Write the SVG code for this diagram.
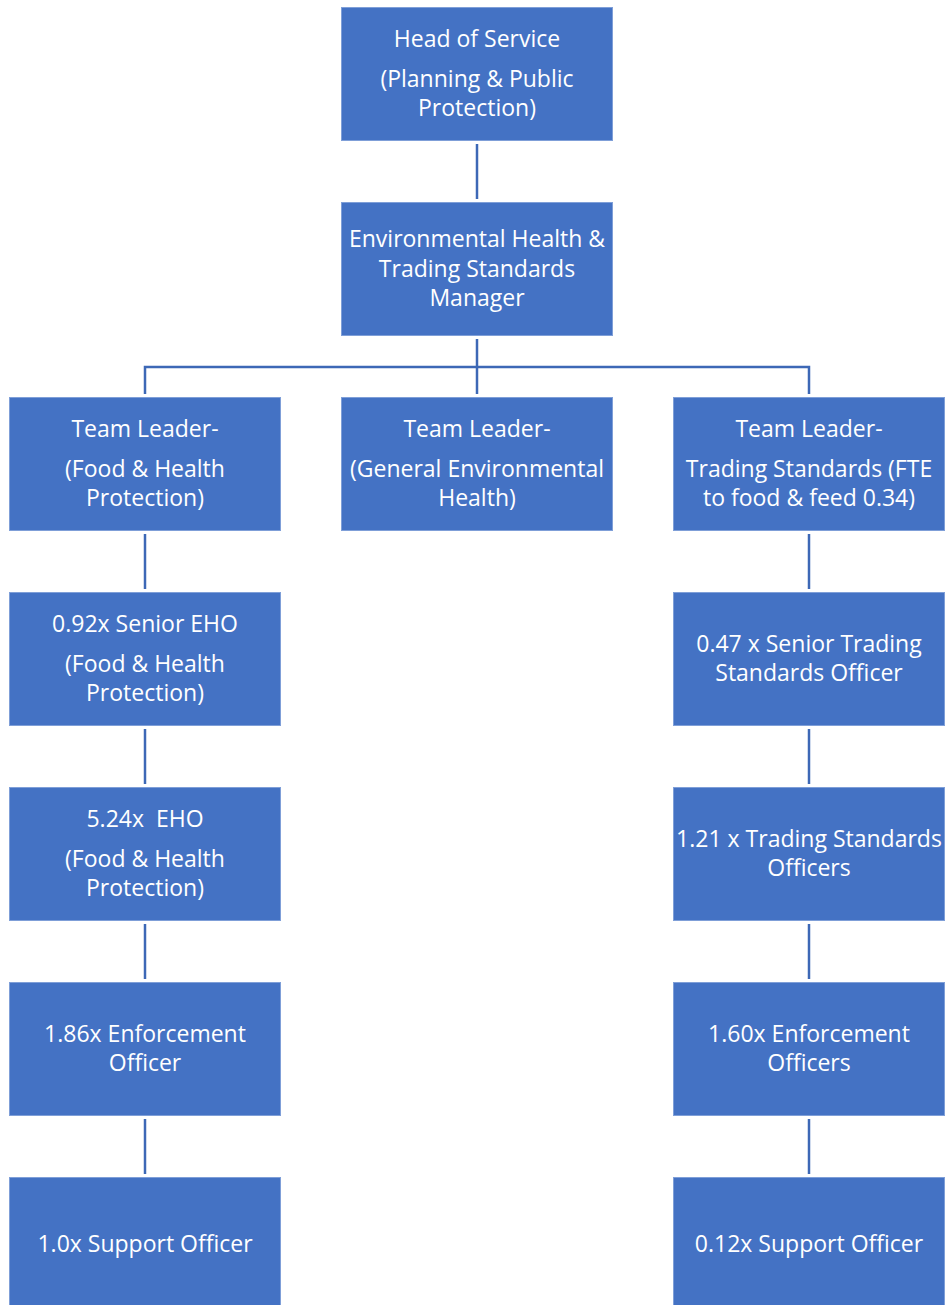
<svg xmlns="http://www.w3.org/2000/svg" width="947" height="1305" viewBox="0 0 947 1305">
<style>
.box{fill:#4472C4;stroke:#7F9FD8;stroke-width:1}
.t{fill:#FFFFFF;font-family:"Open Sans","Liberation Sans",sans-serif;font-size:23px;text-anchor:middle}
.c{fill:none;stroke:#3D68B6;stroke-width:2.5}
</style>
<rect width="947" height="1305" fill="#FFFFFF"/>
<g id="connectors">
<line class="c" x1="477" y1="144" x2="477" y2="199"/>
<line class="c" x1="477" y1="339" x2="477" y2="394"/>
<polyline class="c" points="145,394 145,367 809,367 809,394"/>
<line class="c" x1="145" y1="534" x2="145" y2="589"/>
<line class="c" x1="145" y1="729" x2="145" y2="784"/>
<line class="c" x1="145" y1="924" x2="145" y2="979"/>
<line class="c" x1="145" y1="1119" x2="145" y2="1174"/>
<line class="c" x1="809" y1="534" x2="809" y2="589"/>
<line class="c" x1="809" y1="729" x2="809" y2="784"/>
<line class="c" x1="809" y1="924" x2="809" y2="979"/>
<line class="c" x1="809" y1="1119" x2="809" y2="1174"/>
</g>
<g id="head">
<rect class="box" x="341.5" y="7.5" width="271" height="133"/>
<text class="t" x="477" y="47">Head of Service</text>
<text class="t" x="477" y="87">(Planning &amp; Public</text>
<text class="t" x="477" y="116">Protection)</text>
</g>
<g id="manager">
<rect class="box" x="341.5" y="202.5" width="271" height="133"/>
<text class="t" x="477" y="247">Environmental Health &amp;</text>
<text class="t" x="477" y="277">Trading Standards</text>
<text class="t" x="477" y="306">Manager</text>
</g>
<g id="tl-food">
<rect class="box" x="9.5" y="397.5" width="271" height="133"/>
<text class="t" x="145" y="437">Team Leader-</text>
<text class="t" x="145" y="477">(Food &amp; Health</text>
<text class="t" x="145" y="506">Protection)</text>
</g>
<g id="tl-general">
<rect class="box" x="341.5" y="397.5" width="271" height="133"/>
<text class="t" x="477" y="437">Team Leader-</text>
<text class="t" x="477" y="477">(General Environmental</text>
<text class="t" x="477" y="506">Health)</text>
</g>
<g id="tl-trading">
<rect class="box" x="673.5" y="397.5" width="271" height="133"/>
<text class="t" x="809" y="437">Team Leader-</text>
<text class="t" x="809" y="477">Trading Standards (FTE</text>
<text class="t" x="809" y="506">to food &amp; feed 0.34)</text>
</g>
<g id="senior-eho">
<rect class="box" x="9.5" y="592.5" width="271" height="133"/>
<text class="t" x="145" y="632">0.92x Senior EHO</text>
<text class="t" x="145" y="672">(Food &amp; Health</text>
<text class="t" x="145" y="701">Protection)</text>
</g>
<g id="senior-tso">
<rect class="box" x="673.5" y="592.5" width="271" height="133"/>
<text class="t" x="809" y="652">0.47 x Senior Trading</text>
<text class="t" x="809" y="681">Standards Officer</text>
</g>
<g id="eho">
<rect class="box" x="9.5" y="787.5" width="271" height="133"/>
<text class="t" x="145" y="827" xml:space="preserve">5.24x  EHO</text>
<text class="t" x="145" y="867">(Food &amp; Health</text>
<text class="t" x="145" y="896">Protection)</text>
</g>
<g id="tso">
<rect class="box" x="673.5" y="787.5" width="271" height="133"/>
<text class="t" x="809" y="847">1.21 x Trading Standards</text>
<text class="t" x="809" y="876">Officers</text>
</g>
<g id="enf-left">
<rect class="box" x="9.5" y="982.5" width="271" height="133"/>
<text class="t" x="145" y="1042">1.86x Enforcement</text>
<text class="t" x="145" y="1071">Officer</text>
</g>
<g id="enf-right">
<rect class="box" x="673.5" y="982.5" width="271" height="133"/>
<text class="t" x="809" y="1042">1.60x Enforcement</text>
<text class="t" x="809" y="1071">Officers</text>
</g>
<g id="support-left">
<rect class="box" x="9.5" y="1177.5" width="271" height="140"/>
<text class="t" x="145" y="1252">1.0x Support Officer</text>
</g>
<g id="support-right">
<rect class="box" x="673.5" y="1177.5" width="271" height="140"/>
<text class="t" x="809" y="1252">0.12x Support Officer</text>
</g>
</svg>
